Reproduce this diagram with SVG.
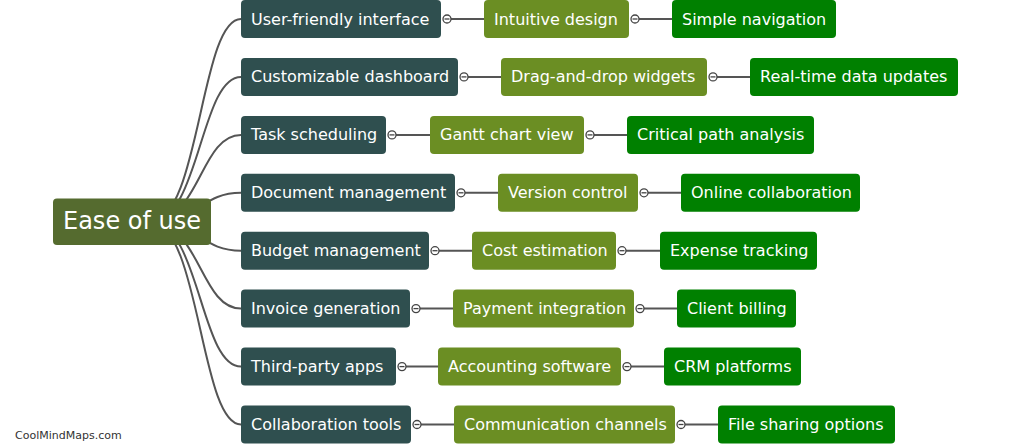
<svg xmlns="http://www.w3.org/2000/svg" width="1023" height="444" viewBox="0 0 1023 444">
<style>
text{font-family:"DejaVu Sans",Verdana,sans-serif;fill:#fff;font-size:16px}
.root{fill:#556B2F}
.l1{fill:#2F4F4F}
.l2{fill:#6B8E23}
.l3{fill:#008000}
.link{fill:none;stroke:#555;stroke-width:2}
.tog circle{fill:#fff;stroke:#444;stroke-width:1.3}
.tog line{stroke:#444;stroke-width:1.3}
.wm{fill:#333;font-size:11px}
</style>
<rect width="1023" height="444" fill="#fff"/>
<g id="connectors">
<path class="link" d="M150 222C200 222 200 19 241 19"/>
<path class="link" d="M150 222C200 222 200 76.9 241 76.9"/>
<path class="link" d="M150 222C200 222 200 134.9 241 134.9"/>
<path class="link" d="M150 222C200 222 200 192.8 241 192.8"/>
<path class="link" d="M150 222C200 222 200 250.7 241 250.7"/>
<path class="link" d="M150 222C200 222 200 308.6 241 308.6"/>
<path class="link" d="M150 222C200 222 200 366.6 241 366.6"/>
<path class="link" d="M150 222C200 222 200 424.5 241 424.5"/>
<path class="link" d="M451 19H484M639 19H672"/>
<path class="link" d="M468 76.9H501M717 76.9H750"/>
<path class="link" d="M396 134.9H430M594 134.9H627"/>
<path class="link" d="M465 192.8H498M648 192.8H681"/>
<path class="link" d="M439 250.7H472M626 250.7H660"/>
<path class="link" d="M420 308.6H453M644 308.6H677"/>
<path class="link" d="M406 366.6H438M631 366.6H664"/>
<path class="link" d="M421 424.5H454M685 424.5H718"/>
</g>
<g id="root"><rect class="root" x="53" y="198.5" width="158" height="46.5" rx="4"/><text x="63" y="228.5" style="font-size:24px">Ease of use</text></g>

<g id="n1"><rect class="l1" x="241" y="0" width="200" height="38" rx="4"/><text x="251" y="24.5">User-friendly interface</text></g>
<g id="n2"><rect class="l1" x="241" y="57.9" width="217" height="38" rx="4"/><text x="251" y="82.4">Customizable dashboard</text></g>
<g id="n3"><rect class="l1" x="241" y="115.9" width="145" height="38" rx="4"/><text x="251" y="140.4">Task scheduling</text></g>
<g id="n4"><rect class="l1" x="241" y="173.8" width="214" height="38" rx="4"/><text x="251" y="198.3">Document management</text></g>
<g id="n5"><rect class="l1" x="241" y="231.7" width="188" height="38" rx="4"/><text x="251" y="256.2">Budget management</text></g>
<g id="n6"><rect class="l1" x="241" y="289.6" width="169" height="38" rx="4"/><text x="251" y="314.1">Invoice generation</text></g>
<g id="n7"><rect class="l1" x="241" y="347.6" width="155" height="38" rx="4"/><text x="251" y="372.1">Third-party apps</text></g>
<g id="n8"><rect class="l1" x="241" y="405.5" width="170" height="38" rx="4"/><text x="251" y="430">Collaboration tools</text></g>

<g id="n1a"><rect class="l2" x="484" y="0" width="145" height="38" rx="4"/><text x="494" y="24.5">Intuitive design</text></g>
<g id="n2a"><rect class="l2" x="501" y="57.9" width="206" height="38" rx="4"/><text x="511" y="82.4">Drag-and-drop widgets</text></g>
<g id="n3a"><rect class="l2" x="430" y="115.9" width="154" height="38" rx="4"/><text x="440" y="140.4">Gantt chart view</text></g>
<g id="n4a"><rect class="l2" x="498" y="173.8" width="140" height="38" rx="4"/><text x="508" y="198.3">Version control</text></g>
<g id="n5a"><rect class="l2" x="472" y="231.7" width="144" height="38" rx="4"/><text x="482" y="256.2">Cost estimation</text></g>
<g id="n6a"><rect class="l2" x="453" y="289.6" width="181" height="38" rx="4"/><text x="463" y="314.1">Payment integration</text></g>
<g id="n7a"><rect class="l2" x="438" y="347.6" width="183" height="38" rx="4"/><text x="448" y="372.1">Accounting software</text></g>
<g id="n8a"><rect class="l2" x="454" y="405.5" width="221" height="38" rx="4"/><text x="464" y="430">Communication channels</text></g>

<g id="n1b"><rect class="l3" x="672" y="0" width="164" height="38" rx="4"/><text x="682" y="24.5">Simple navigation</text></g>
<g id="n2b"><rect class="l3" x="750" y="57.9" width="208" height="38" rx="4"/><text x="760" y="82.4">Real-time data updates</text></g>
<g id="n3b"><rect class="l3" x="627" y="115.9" width="187" height="38" rx="4"/><text x="637" y="140.4">Critical path analysis</text></g>
<g id="n4b"><rect class="l3" x="681" y="173.8" width="179" height="38" rx="4"/><text x="691" y="198.3">Online collaboration</text></g>
<g id="n5b"><rect class="l3" x="660" y="231.7" width="157" height="38" rx="4"/><text x="670" y="256.2">Expense tracking</text></g>
<g id="n6b"><rect class="l3" x="677" y="289.6" width="119" height="38" rx="4"/><text x="687" y="314.1">Client billing</text></g>
<g id="n7b"><rect class="l3" x="664" y="347.6" width="137" height="38" rx="4"/><text x="674" y="372.1">CRM platforms</text></g>
<g id="n8b"><rect class="l3" x="718" y="405.5" width="177" height="38" rx="4"/><text x="728" y="430">File sharing options</text></g>

<g id="toggles" class="tog">
<g transform="translate(447,19)"><circle r="4"/><line x1="-2.5" x2="2.5"/></g>
<g transform="translate(464,76.9)"><circle r="4"/><line x1="-2.5" x2="2.5"/></g>
<g transform="translate(392,134.9)"><circle r="4"/><line x1="-2.5" x2="2.5"/></g>
<g transform="translate(461,192.8)"><circle r="4"/><line x1="-2.5" x2="2.5"/></g>
<g transform="translate(435,250.7)"><circle r="4"/><line x1="-2.5" x2="2.5"/></g>
<g transform="translate(416,308.6)"><circle r="4"/><line x1="-2.5" x2="2.5"/></g>
<g transform="translate(402,366.6)"><circle r="4"/><line x1="-2.5" x2="2.5"/></g>
<g transform="translate(417,424.5)"><circle r="4"/><line x1="-2.5" x2="2.5"/></g>
<g transform="translate(635,19)"><circle r="4"/><line x1="-2.5" x2="2.5"/></g>
<g transform="translate(713,76.9)"><circle r="4"/><line x1="-2.5" x2="2.5"/></g>
<g transform="translate(590,134.9)"><circle r="4"/><line x1="-2.5" x2="2.5"/></g>
<g transform="translate(644,192.8)"><circle r="4"/><line x1="-2.5" x2="2.5"/></g>
<g transform="translate(622,250.7)"><circle r="4"/><line x1="-2.5" x2="2.5"/></g>
<g transform="translate(640,308.6)"><circle r="4"/><line x1="-2.5" x2="2.5"/></g>
<g transform="translate(627,366.6)"><circle r="4"/><line x1="-2.5" x2="2.5"/></g>
<g transform="translate(681,424.5)"><circle r="4"/><line x1="-2.5" x2="2.5"/></g>
</g>
<text class="wm" x="15" y="439">CoolMindMaps.com</text>
</svg>
